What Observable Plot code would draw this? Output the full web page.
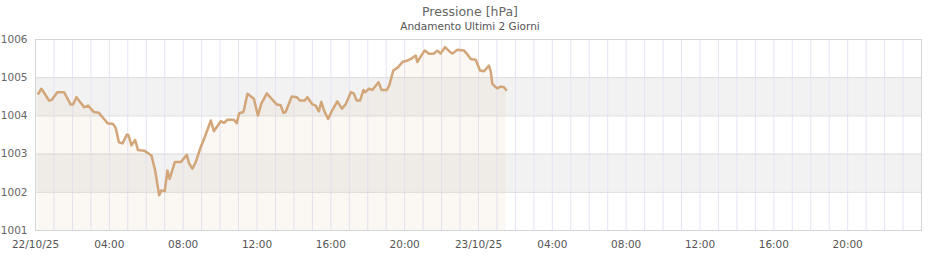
<!DOCTYPE html>
<html>
<head>
<meta charset="utf-8">
<script src="https://cdn.jsdelivr.net/npm/d3@7"></script>
<script src="https://cdn.jsdelivr.net/npm/@observablehq/plot@0.6"></script>
<style>
  html, body { margin: 0; padding: 0; background: #fff; }
  body { width: 940px; font-family: "DejaVu Sans", sans-serif; }
  #head { position: relative; width: 940px; height: 33px; }
  #title { position: absolute; left: 0; width: 940px; top: 4px; text-align: center; font-size: 12.5px; color: #666; line-height: normal; }
  #subtitle { position: absolute; left: 0; width: 940px; top: 20px; text-align: center; font-size: 10.5px; color: #555; line-height: normal; }
  #chart svg { display: block; }
</style>
</head>
<body>
<div id="head">
  <div id="title">Pressione [hPa]</div>
  <div id="subtitle">Andamento Ultimi 2 Giorni</div>
</div>
<div id="chart"></div>
<script>
// minutes since 22/10/25 00:00
const minutes = [9,19,27,44,53,71,93,114,122,133,158,171,190,206,223,234,252,261,271,283,297,302,312,324,333,353,369,377,389,402,409,420,429,436,453,472,492,499,510,521,535,550,570,580,602,613,624,645,654,662,676,689,710,723,734,752,767,784,797,806,813,833,849,860,875,884,899,911,921,929,938,951,964,981,996,1008,1025,1035,1044,1055,1066,1071,1084,1095,1115,1125,1142,1150,1163,1178,1193,1209,1220,1236,1241,1254,1265,1279,1295,1306,1317,1331,1344,1355,1371,1393,1404,1415,1431,1445,1458,1474,1480,1485,1494,1501,1512,1523,1530];
const values = [1004.58,1004.71,1004.62,1004.40,1004.42,1004.62,1004.62,1004.30,1004.30,1004.49,1004.23,1004.27,1004.10,1004.08,1003.92,1003.81,1003.79,1003.68,1003.31,1003.28,1003.51,1003.50,1003.23,1003.37,1003.11,1003.09,1003.01,1002.96,1002.57,1001.92,1002.05,1002.03,1002.57,1002.35,1002.79,1002.79,1002.98,1002.76,1002.62,1002.79,1003.14,1003.44,1003.88,1003.60,1003.86,1003.82,1003.90,1003.90,1003.81,1004.07,1004.10,1004.58,1004.45,1004.01,1004.32,1004.59,1004.45,1004.30,1004.28,1004.08,1004.10,1004.51,1004.49,1004.40,1004.40,1004.49,1004.31,1004.27,1004.12,1004.37,1004.14,1003.92,1004.14,1004.38,1004.19,1004.30,1004.62,1004.58,1004.40,1004.40,1004.68,1004.62,1004.71,1004.68,1004.88,1004.68,1004.68,1004.80,1005.19,1005.27,1005.41,1005.45,1005.49,1005.58,1005.41,1005.58,1005.71,1005.63,1005.63,1005.71,1005.63,1005.80,1005.70,1005.63,1005.73,1005.71,1005.61,1005.49,1005.47,1005.19,1005.17,1005.32,1005.15,1004.84,1004.77,1004.72,1004.77,1004.75,1004.68];

const yTicks = [1001, 1002, 1003, 1004, 1005, 1006];
const bandLows = [1002, 1004];
const bandHighs = [1003, 1005];
const xTickHours = [0, 4, 8, 12, 16, 20, 24, 28, 32, 36, 40, 44];
const xTickLabels = ["22/10/25", "04:00", "08:00", "12:00", "16:00", "20:00", "23/10/25", "04:00", "08:00", "12:00", "16:00", "20:00"];
const totalHours = 48;

const t0 = Date.UTC(2025, 9, 22, 0, 0);
const H = 3600 * 1000;
const data = minutes.map((m, i) => ({date: new Date(t0 + m * 60000), value: values[i]}));
const bands = bandLows.map((lo, i) => ({lo, hi: bandHighs[i]}));
const hourLines = d3.range(1, totalHours).map(h => new Date(t0 + h * H));
const xTicks = xTickHours.map(h => new Date(t0 + h * H));
const labelOf = new Map(xTicks.map((d, i) => [+d, xTickLabels[i]]));

const chart = Plot.plot({
  width: 940,
  height: 227,
  marginTop: 6,
  marginBottom: 30,
  marginLeft: 35,
  marginRight: 19,
  style: {fontFamily: "DejaVu Sans, sans-serif", fontSize: "10.5px", color: "#666", background: "#fff", overflow: "visible"},
  x: {type: "utc", domain: [new Date(t0), new Date(t0 + totalHours * H)], label: null},
  y: {domain: [1001, 1006], label: null},
  marks: [
    Plot.rect(bands, {y1: "lo", y2: "hi", fill: "#f2f2f2"}),
    Plot.ruleX(hourLines, {stroke: "#e6e4f6", strokeWidth: 1}),
    Plot.ruleY(yTicks, {stroke: "#dcdcdc", strokeWidth: 1}),
    Plot.areaY(data, {x: "date", y1: 1001, y2: "value", fill: "#d2a679", fillOpacity: 0.08}),
    Plot.lineY(data, {x: "date", y: "value", stroke: "#d2a679", strokeWidth: 2.5, curve: "linear"}),
    Plot.frame({stroke: "#d4d4d4"}),
    Plot.axisY(yTicks, {tickSize: 0, tickPadding: 8, fill: "#666", label: null, tickFormat: d => String(d)}),
    Plot.axisX(xTicks, {tickSize: 0, tickPadding: 10, fill: "#555", label: null, tickFormat: d => labelOf.get(+d)})
  ]
});
document.getElementById("chart").appendChild(chart);
</script>
</body>
</html>
